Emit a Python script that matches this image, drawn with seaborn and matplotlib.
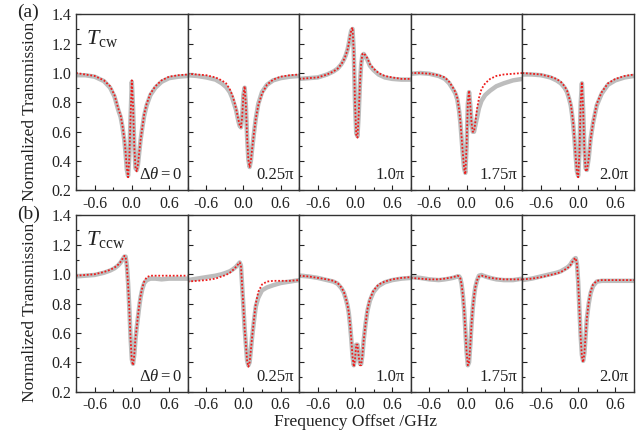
import matplotlib
matplotlib.use("Agg")
import matplotlib.pyplot as plt
import seaborn as sns
from matplotlib.ticker import MultipleLocator

# ------------------- Data -------------------

freq = [-0.9, -0.75, -0.6, -0.45, -0.35, -0.28, -0.22, -0.18, -0.15, -0.12, -0.10,
        -0.08, -0.06, -0.04, -0.02, 0.00, 0.02, 0.04, 0.06, 0.08, 0.10, 0.12,
        0.14, 0.17, 0.20, 0.24, 0.30, 0.38, 0.48, 0.6, 0.75, 0.9]

phase_labels = [r"$\Delta\theta = 0$", "0.25π", "1.0π", "1.75π", "2.0π"]

# (a) T_cw
cw0_fit = [1.0, 0.99, 0.98, 0.95, 0.91, 0.85, 0.76, 0.71, 0.64, 0.55, 0.46,
           0.35, 0.29, 0.42, 0.70, 0.95, 0.78, 0.50, 0.35, 0.33, 0.38, 0.46,
           0.54, 0.63, 0.72, 0.79, 0.86, 0.91, 0.95, 0.975, 0.985, 0.99]
cw0_data = [0.985, 0.985, 0.975, 0.945, 0.90, 0.84, 0.75, 0.70, 0.63, 0.54, 0.45,
            0.34, 0.30, 0.43, 0.70, 0.94, 0.77, 0.50, 0.35, 0.34, 0.38, 0.46,
            0.54, 0.63, 0.71, 0.78, 0.85, 0.90, 0.94, 0.965, 0.975, 0.98]

cw1_fit = [0.995, 0.99, 0.985, 0.97, 0.95, 0.93, 0.89, 0.85, 0.81, 0.76, 0.72,
           0.68, 0.645, 0.63, 0.70, 0.85, 0.91, 0.78, 0.56, 0.41, 0.36, 0.40,
           0.48, 0.59, 0.69, 0.78, 0.86, 0.92, 0.955, 0.975, 0.985, 0.99]
cw1_data = [0.985, 0.98, 0.97, 0.955, 0.93, 0.905, 0.87, 0.83, 0.79, 0.75, 0.71,
            0.67, 0.64, 0.63, 0.70, 0.85, 0.90, 0.78, 0.56, 0.41, 0.36, 0.40,
            0.48, 0.59, 0.69, 0.79, 0.87, 0.92, 0.95, 0.965, 0.975, 0.98]

cw2_fit = [0.96, 0.965, 0.97, 0.99, 1.01, 1.03, 1.06, 1.09, 1.12, 1.16, 1.20,
           1.25, 1.29, 1.31, 1.15, 0.80, 0.58, 0.56, 0.72, 0.93, 1.07, 1.13,
           1.135, 1.12, 1.10, 1.06, 1.03, 1.00, 0.98, 0.97, 0.96, 0.96]
cw2_data = [0.96, 0.965, 0.97, 0.99, 1.01, 1.03, 1.06, 1.09, 1.12, 1.16, 1.20,
            1.25, 1.29, 1.30, 1.15, 0.80, 0.59, 0.57, 0.72, 0.93, 1.06, 1.12,
            1.13, 1.11, 1.09, 1.05, 1.02, 0.99, 0.97, 0.96, 0.955, 0.955]

cw3_fit = [1.0, 1.0, 0.995, 0.985, 0.97, 0.94, 0.90, 0.87, 0.83, 0.75, 0.67,
           0.56, 0.45, 0.35, 0.31, 0.50, 0.80, 0.88, 0.78, 0.66, 0.60, 0.60,
           0.66, 0.76, 0.83, 0.89, 0.93, 0.96, 0.98, 0.99, 0.995, 1.0]
cw3_data = [0.995, 1.0, 0.995, 0.98, 0.96, 0.93, 0.89, 0.86, 0.82, 0.74, 0.66,
            0.55, 0.44, 0.35, 0.32, 0.50, 0.79, 0.87, 0.78, 0.66, 0.60, 0.60,
            0.64, 0.70, 0.76, 0.81, 0.85, 0.88, 0.91, 0.93, 0.95, 0.96]

cw4_fit = [1.0, 0.995, 0.99, 0.975, 0.96, 0.94, 0.91, 0.88, 0.84, 0.79, 0.73,
           0.66, 0.55, 0.43, 0.32, 0.29, 0.45, 0.80, 0.94, 0.75, 0.48, 0.34,
           0.33, 0.42, 0.55, 0.66, 0.79, 0.87, 0.93, 0.96, 0.98, 0.99]
cw4_data = [0.99, 0.99, 0.985, 0.97, 0.95, 0.93, 0.90, 0.87, 0.83, 0.78, 0.72,
            0.65, 0.55, 0.43, 0.33, 0.30, 0.45, 0.79, 0.93, 0.75, 0.49, 0.35,
            0.34, 0.42, 0.55, 0.66, 0.78, 0.86, 0.92, 0.95, 0.97, 0.98]

# (b) T_ccw
ccw0_fit = [0.99, 0.995, 1.0, 1.015, 1.03, 1.045, 1.065, 1.085, 1.105, 1.125, 1.12,
            1.05, 0.93, 0.76, 0.56, 0.41, 0.38, 0.45, 0.57, 0.64, 0.72, 0.79,
            0.85, 0.91, 0.95, 0.98, 0.99, 0.99, 0.99, 0.99, 0.99, 0.99]
ccw0_data = [0.985, 0.99, 0.995, 1.01, 1.025, 1.04, 1.06, 1.08, 1.10, 1.12, 1.12,
             1.06, 0.94, 0.77, 0.57, 0.42, 0.39, 0.45, 0.56, 0.64, 0.71, 0.78,
             0.84, 0.90, 0.94, 0.96, 0.97, 0.97, 0.965, 0.97, 0.97, 0.97]

ccw1_fit = [0.95, 0.955, 0.96, 0.97, 0.985, 0.995, 1.01, 1.025, 1.035, 1.05, 1.06,
            1.07, 1.08, 1.06, 0.92, 0.78, 0.63, 0.52, 0.41, 0.37, 0.40, 0.48,
            0.57, 0.69, 0.80, 0.88, 0.93, 0.95, 0.955, 0.955, 0.955, 0.96]
ccw1_data = [0.96, 0.97, 0.98, 0.99, 1.0, 1.01, 1.02, 1.03, 1.04, 1.05, 1.06,
             1.07, 1.08, 1.06, 0.92, 0.78, 0.63, 0.52, 0.41, 0.38, 0.40, 0.48,
             0.57, 0.68, 0.78, 0.84, 0.89, 0.91, 0.925, 0.94, 0.95, 0.96]

ccw2_fit = [0.99, 0.985, 0.975, 0.965, 0.955, 0.94, 0.91, 0.88, 0.84, 0.79, 0.74,
            0.66, 0.56, 0.44, 0.37, 0.42, 0.52, 0.52, 0.44, 0.38, 0.38, 0.45,
            0.55, 0.66, 0.76, 0.83, 0.89, 0.93, 0.95, 0.965, 0.975, 0.98]
ccw2_data = [0.99, 0.985, 0.975, 0.96, 0.95, 0.935, 0.905, 0.875, 0.835, 0.785, 0.735,
             0.655, 0.56, 0.44, 0.38, 0.42, 0.52, 0.52, 0.45, 0.39, 0.39, 0.45,
             0.55, 0.66, 0.75, 0.82, 0.88, 0.92, 0.945, 0.96, 0.97, 0.975]

ccw3_fit = [0.975, 0.97, 0.965, 0.965, 0.97, 0.975, 0.98, 0.985, 0.99, 0.985, 0.97,
            0.93, 0.86, 0.76, 0.62, 0.47, 0.38, 0.40, 0.52, 0.66, 0.77, 0.85,
            0.91, 0.96, 0.985, 0.99, 0.985, 0.975, 0.97, 0.965, 0.965, 0.965]
ccw3_data = [0.98, 0.975, 0.965, 0.96, 0.965, 0.97, 0.975, 0.98, 0.985, 0.985, 0.97,
             0.93, 0.86, 0.76, 0.62, 0.47, 0.38, 0.40, 0.52, 0.66, 0.77, 0.85,
             0.91, 0.96, 0.99, 0.995, 0.985, 0.975, 0.965, 0.96, 0.96, 0.97]

ccw4_fit = [0.965, 0.97, 0.98, 0.995, 1.005, 1.015, 1.03, 1.04, 1.05, 1.065, 1.08,
            1.095, 1.105, 1.11, 1.07, 0.95, 0.76, 0.57, 0.44, 0.40, 0.46, 0.58,
            0.70, 0.81, 0.88, 0.93, 0.955, 0.96, 0.96, 0.96, 0.96, 0.96]
ccw4_data = [0.96, 0.97, 0.985, 1.0, 1.01, 1.02, 1.035, 1.045, 1.055, 1.07, 1.085,
             1.095, 1.105, 1.11, 1.07, 0.95, 0.76, 0.58, 0.45, 0.41, 0.46, 0.58,
             0.70, 0.80, 0.87, 0.92, 0.95, 0.955, 0.955, 0.955, 0.955, 0.955]

cw_fits = [cw0_fit, cw1_fit, cw2_fit, cw3_fit, cw4_fit]
cw_datas = [cw0_data, cw1_data, cw2_data, cw3_data, cw4_data]
ccw_fits = [ccw0_fit, ccw1_fit, ccw2_fit, ccw3_fit, ccw4_fit]
ccw_datas = [ccw0_data, ccw1_data, ccw2_data, ccw3_data, ccw4_data]

# ------------------- Style -------------------

sns.set_theme(style="ticks")
plt.rcParams["font.family"] = ["Liberation Serif", "DejaVu Serif"]
plt.rcParams["mathtext.fontset"] = "custom"
plt.rcParams["mathtext.rm"] = "Liberation Serif"
plt.rcParams["mathtext.it"] = "Liberation Serif:italic"
plt.rcParams["axes.unicode_minus"] = False

fig, axes = plt.subplots(2, 5, figsize=(6.42, 4.37), dpi=100, sharey=True)
fig.subplots_adjust(left=0.1184, right=0.9875, top=0.9673, bottom=0.1037,
                    wspace=0, hspace=0.142)

rows = [(cw_fits, cw_datas, r"$T_{\mathrm{cw}}$"),
        (ccw_fits, ccw_datas, r"$T_{\mathrm{ccw}}$")]

for r, (fits, datas, tlabel) in enumerate(rows):
    for c in range(5):
        ax = axes[r, c]
        sns.lineplot(x=freq, y=datas[c], ax=ax, color="#bdbdbd", linewidth=3.2,
                     estimator=None, sort=False)
        sns.lineplot(x=freq, y=fits[c], ax=ax, color="#ee1c1c", linewidth=1.3,
                     linestyle=(0, (1, 1)), estimator=None, sort=False)
        ax.set_xlim(-0.9, 0.9)
        ax.set_ylim(0.2, 1.4)
        ax.xaxis.set_major_locator(MultipleLocator(0.6))
        ax.xaxis.set_minor_locator(MultipleLocator(0.3))
        ax.yaxis.set_major_locator(MultipleLocator(0.2))
        ax.yaxis.set_minor_locator(MultipleLocator(0.1))
        ax.tick_params(which="both", direction="in", labelsize=11.5,
                       colors="#222222", labelcolor="#222222")
        ax.tick_params(which="major", length=3.5, width=0.8)
        ax.tick_params(which="minor", length=2, width=0.8)
        ax.tick_params(axis="x", pad=4)
        for s in ax.spines.values():
            s.set_color("#333333")
            s.set_linewidth(1.0)
        ax.text(0.95, 0.04, phase_labels[c], transform=ax.transAxes,
                ha="right", va="bottom", fontsize=12, color="#222222")
        if c == 0:
            ax.set_ylabel("Normalized Transmission", fontsize=12.5, color="#222222")
            ax.yaxis.set_label_coords(-0.34, 0.45)
            ax.text(0.09, 0.83, tlabel, transform=ax.transAxes, fontsize=16,
                    color="#222222")
        else:
            ax.set_ylabel("")

fig.text(0.026, 0.972, "(a)", fontsize=14, color="#222222", va="center")
fig.text(0.026, 0.51, "(b)", fontsize=14, color="#222222", va="center")
fig.text(0.553, 0.035, "Frequency Offset /GHz", fontsize=12.5, color="#222222",
         ha="center", va="center")

plt.savefig("out.png", dpi=100)
